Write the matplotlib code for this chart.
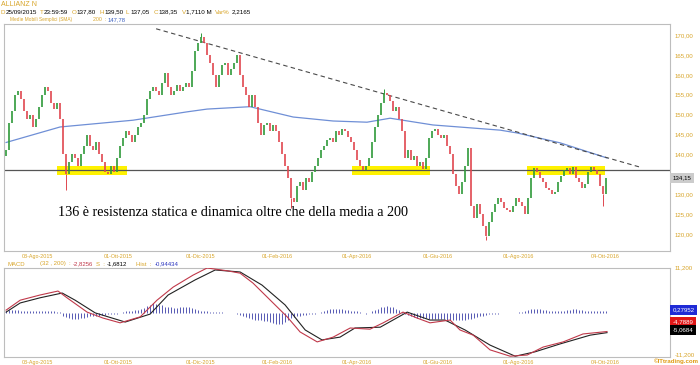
import numpy as np
import matplotlib.pyplot as plt
from matplotlib.patches import Rectangle
from matplotlib.transforms import blended_transform_factory

plt.rcParams['font.family'] = ['Liberation Sans', 'DejaVu Sans']

GOLD = '#d8a52a'
GREEN = '#2f9a3a'
RED = '#e0474f'
FRAME = '#bdbdbd'

# daily closes (one candle per bar)
close = [141, 148, 151, 155, 156, 154, 151, 149, 150, 147,
         149, 152, 155, 157, 156, 153, 151.5, 153, 149, 140,
         135, 138, 140, 139, 137, 140, 142, 145, 142, 141,
         143, 140, 138, 135.5, 135, 137, 135.5, 139, 142, 144,
         146, 145, 143, 145, 147, 148, 150, 154, 156, 157,
         156, 155, 158, 160.5, 157, 155, 156, 157.5, 156, 157,
         158, 157, 161, 166, 168, 169.5, 168, 165, 163, 160,
         157, 160, 162.5, 163, 160, 161.5, 163, 165, 160, 157,
         155, 152, 155, 152, 148, 145, 147.5, 148, 146, 147.5,
         146, 143, 140, 137, 134, 129, 128, 132, 133, 131,
         134, 133, 135.5, 137, 139, 141, 142, 143.5, 144, 143,
         146, 145, 146.5, 146, 144.5, 143, 141, 138.5, 137, 136.2,
         137, 139, 143, 147, 150, 153, 155.5, 155, 153.5, 151,
         152, 149, 146, 139, 141, 138.5, 139.5, 137, 138, 136.3,
         139, 144, 146, 146.5, 145, 144, 145, 142, 140, 135,
         132, 130, 133, 137, 141.5, 127, 124, 127.5, 125, 122,
         119.5, 123, 125.5, 127.5, 129, 128, 126.5, 126, 125.5, 127,
         129, 128, 127, 125, 129, 134, 136.5, 135.5, 134, 133,
         131.5, 131, 130, 130.5, 133, 134.5, 136, 136.5, 135, 136.8,
         134, 133, 131.5, 132.5, 135.5, 136.8, 136, 135, 132, 130,
         134.15]
first_open = 139.5

# long shadows that stick out of the bodies
shadow_idx = [20, 65, 95, 126, 160, 199]
shadow_end = [131.0, 170.5, 126.5, 156.5, 118.5, 127.0]

# 200-day simple moving average
sma_idx = [0, 18, 42.3, 60.3, 67, 81.3, 95.7, 109, 120.3, 128, 142.3, 164.7, 170.3, 184.7, 200.3]
sma_val = [143.0, 146.9, 148.6, 150.7, 151.4, 152.0, 149.4, 148.4, 148.1, 149.1, 147.4, 146.1, 145.4, 142.9, 139.1]

# dashed resistance line
trend_idx = [50, 211.3]
trend_val = [171.6, 136.8]

level = 136.0
zone_start = [17, 115.3, 173.7]
zone_end = [40.3, 141.3, 199.7]
zone_lo, zone_hi = 134.8, 137.0
last_price = 134.15

# MACD
macd_idx = [0, 4.7, 11.3, 17.3, 20.3, 27, 32.3, 38, 44.7, 50.3, 55.7, 62.3, 67, 73.7, 78,
            82.3, 89, 93.7, 98, 103.7, 109, 114.7, 121.3, 125.7, 132.3, 137, 141.3, 148,
            151.3, 155.7, 161.3, 168, 173.7, 179, 185.7, 192.3, 200.3]
macd_val = [0.6, 3.1, 4.4, 5.4, 3.7, 0.1, -1.4, -2.6, -1.1, 3.1, 6.4, 9.4, 11.2, 10.5, 9.9,
            7.4, 2.4, -1.1, -4.9, -7.4, -6.2, -3.9, -4.2, -2.6, 0.1, -1.4, -2.6, -1.9,
            -4.4, -5.7, -9.4, -11.0, -10.7, -8.7, -7.4, -5.4, -4.79]
sig_idx = [0, 4.7, 11.3, 18.7, 23, 29.7, 39.7, 48, 54, 63, 69.7, 78, 85.3, 93, 99.7, 105.3,
           111.3, 116.3, 124.7, 133.7, 141.3, 146.3, 153, 161.3, 169.7, 176.3, 184.7, 194.7, 200.3]
sig_val = [0.1, 2.4, 3.7, 4.9, 3.1, -0.1, -2.4, -0.4, 4.4, 8.2, 10.7, 10.2, 6.9, 1.9, -4.4, -6.9,
           -6.2, -3.9, -3.7, 0.1, -1.9, -1.9, -4.4, -8.2, -11.0, -9.9, -7.9, -5.7, -5.07]
hist = [0.5, 0.6, 0.7, 0.6, 0.6, 0.5, 0.5,
        0.4, 0.4, 0.3, 0.4, 0.4, 0.3, 0.3, 0.4, 0.3, 0.3, 0.2, 0.1,
        -0.8, -1.2, -1.5, -1.7, -1.7, -1.6, -1.5, -1.4, -1.2,
        -1.0, -0.9, -0.8, -0.8, -0.7, -0.6, -0.5, -0.5, -0.4, -0.3, -0.2,
        0.2, 0.3, 0.4, 0.5, 0.6, 0.7, 0.9,
        1.2, 1.6, 2.0, 2.3, 2.2, 2.0, 1.8,
        1.5, 1.4, 1.3, 1.2, 1.2, 1.3, 1.4, 1.4, 1.3, 1.1, 0.9, 0.7,
        0.5, 0.4, 0.3, 0.2, 0.2,
        0.1, 0.1, 0.05, 0.0, 0.0, 0.0, -0.1,
        -0.3, -0.6, -0.9, -1.2, -1.5, -1.7, -1.8, -1.9, -2.0, -2.1, -2.2, -2.4, -2.6, -2.8, -3.0,
        -2.9, -2.5, -2.0, -1.5,
        -1.2, -1.0, -0.8, -0.7, -0.6, -0.5, -0.4, -0.3, -0.2,
        0.2, 0.4, 0.6, 0.8, 0.9, 0.9, 0.8, 0.8, 0.7, 0.6,
        0.5, 0.4, 0.3, 0.1, -0.2, -0.3, -0.2,
        0.3, 0.7, 1.0, 1.3, 1.5, 1.6, 1.5, 1.3, 1.0, 0.6, 0.2,
        -0.3, -0.6, -0.9, -1.1, -1.3, -1.4, -1.5, -1.5, -1.6, -1.6, -1.6, -1.7, -1.7, -1.7, -1.8,
        -1.8, -1.8, -1.9, -1.9, -1.8, -1.8, -1.7, -1.6, -1.4, -1.2, -1.0, -0.8, -0.6, -0.5,
        -0.4, -0.3, -0.3, -0.2, -0.2, -0.1, -0.1, 0.0, 0.0, 0.05, 0.1,
        0.3, 0.6, 0.8, 0.9, 0.9, 0.8, 0.7, 0.6,
        0.5, 0.4, 0.4, 0.4, 0.4, 0.5, 0.6, 0.7, 0.8, 0.8,
        0.7, 0.6, 0.5, 0.4, 0.4, 0.3, 0.3, 0.3, 0.3, 0.28]

tick_pos = [10.3, 37.3, 64.7, 90.3, 117, 144, 170.7, 199.7]
tick_lab = ['03-Ago-2015', '01-Ott-2015', '01-Dic-2015', '01-Feb-2016',
            '01-Apr-2016', '01-Giu-2016', '01-Ago-2016', '04-Ott-2016']
# 135 is covered by the last-price box, so it is not labelled
price_ticks = [120, 125, 130, 140, 145, 150, 155, 160, 165, 170]

W, H = 700, 365
fig = plt.figure(figsize=(W / 100, H / 100), dpi=100)


def px(x, y):
    return x / W, 1 - y / H


def frac_box(l, t, r, b):
    return [l / W, 1 - b / H, (r - l) / W, (b - t) / H]


ax = fig.add_axes(frac_box(4, 24, 670, 251))
axm = fig.add_axes(frac_box(4, 268, 670, 357))

for a in (ax, axm):
    for s in a.spines.values():
        s.set_color(FRAME)
        s.set_linewidth(0.8)
    a.set_xlim(-0.7, 221.3)
    a.set_xticks(tick_pos)
    a.set_xticklabels(tick_lab)
    a.yaxis.tick_right()
    a.tick_params(axis='y', length=0, labelsize=4.4, labelcolor=GOLD, pad=3.5)
    a.tick_params(axis='x', length=0, labelsize=3.9, labelcolor=GOLD, pad=2.5)

# --- price panel ---
x = np.arange(len(close))
c = np.array(close, dtype=float)
o = np.r_[first_open, c[:-1]]
up = c >= o
lo = np.minimum(o, c)
hi = np.maximum(o, c)
ax.vlines(x[up], o[up], c[up], color=GREEN, lw=1.2, zorder=4)
ax.vlines(x[~up], o[~up], c[~up], color=RED, lw=1.2, zorder=4)
for i, v in zip(shadow_idx, shadow_end):
    col = GREEN if up[i] else RED
    if v < lo[i]:
        ax.vlines(i, v, lo[i], color=col, lw=0.7, zorder=4)
    else:
        ax.vlines(i, hi[i], v, color=col, lw=0.7, zorder=4)

ax.plot(sma_idx, sma_val, color='#6f8fd6', lw=0.9, zorder=3)
ax.plot(trend_idx, trend_val, color='#4a4a4a', lw=0.8, dashes=(4, 3), zorder=3)
ax.axhline(level, color='#555555', lw=0.9, zorder=2)
for s, e in zip(zone_start, zone_end):
    ax.add_patch(Rectangle((s, zone_lo), e - s, zone_hi - zone_lo,
                           facecolor='#fff200', edgecolor='none', zorder=1))

ax.set_ylim(115.7, 172.8)
ax.set_yticks(price_ticks)
ax.set_yticklabels([f"{v:.2f}".replace('.', ',') for v in price_ticks])

ax.text(17.3, 125.3, "136 è resistenza statica e dinamica oltre che della media a 200",
        family=['Liberation Serif', 'DejaVu Serif'], fontsize=10.2, va='center', ha='left',
        color='black', zorder=6)

tr = blended_transform_factory(ax.transAxes, ax.transData)
ax.text(1.004, last_price, f"{last_price:.2f}".replace('.', ','), transform=tr,
        fontsize=4.4, va='center', ha='left', color='black',
        bbox=dict(boxstyle='square,pad=0.4', facecolor='#cccccc', edgecolor='none'))

# --- MACD panel ---
xh = np.arange(len(hist))
axm.vlines(xh, 0, hist, color='#3b3fa8', lw=0.6, zorder=2)
axm.plot(sig_idx, sig_val, color='#222222', lw=0.8, zorder=3)
axm.plot(macd_idx, macd_val, color='#c0394a', lw=0.8, zorder=3)
axm.set_ylim(-11.2, 11.2)
axm.set_yticks([11.2, -11.2])
axm.set_yticklabels(['11,200', '-11,200'])
ylabs = axm.get_yticklabels()
ylabs[0].set_va('center')
ylabs[1].set_va('bottom')

for yv, txt, bg in [(0.528, '0,27952', '#1f2bd6'), (0.393, '-4,7889', '#e01818'),
                    (0.303, '-5,0684', '#000000')]:
    axm.text(1.004, yv, txt, transform=axm.transAxes, fontsize=4.4, color='white',
             va='center', ha='left',
             bbox=dict(boxstyle='square,pad=0.4', facecolor=bg, edgecolor='none'))

# --- header texts ---
fig.text(*px(1, 4), 'ALLIANZ N', color=GOLD, fontsize=5.0, va='center')
row = [(0.5, 'D', GOLD), (6, '25/09/2015', 'black'), (40, 'T', GOLD), (44, '23:59:59', 'black'),
       (72, 'O', GOLD), (76, '137,80', 'black'), (100, 'H', GOLD), (104, '139,50', 'black'),
       (126, 'L', GOLD), (130, '137,05', 'black'), (154, 'C', GOLD), (158, '138,35', 'black'),
       (182, 'V', GOLD), (186, '1,7110 M', 'black'), (215, 'Var%', GOLD), (232, '2,2165', 'black')]
for xx, t, col in row:
    fig.text(*px(xx, 12), t, color=col, fontsize=4.5, va='center')
fig.text(*px(10, 19.5), 'Medie Mobili Semplici (SMA)', color=GOLD, fontsize=3.4, va='center')
fig.text(*px(93, 19.5), '200  :', color=GOLD, fontsize=3.8, va='center')
fig.text(*px(108, 19.5), '147,78', color='#3a5fc0', fontsize=4.2, va='center')

mrow = [(8, 'MACD', GOLD), (40, '(32 , 200)  :', GOLD), (73, '-2,8256', '#c0394a'),
        (96, 'S  :', GOLD), (107, '-1,6812', 'black'), (136, 'Hist  :', GOLD),
        (155, '-0,94434', '#2b35c0')]
for xx, t, col in mrow:
    fig.text(*px(xx, 264), t, color=col, fontsize=4.3, va='center')

fig.text(*px(699, 361.5), '©ITtrading.com', color='#e09a10', fontsize=4.4,
         fontweight='bold', va='center', ha='right')

fig.savefig('out.png', dpi=100)
